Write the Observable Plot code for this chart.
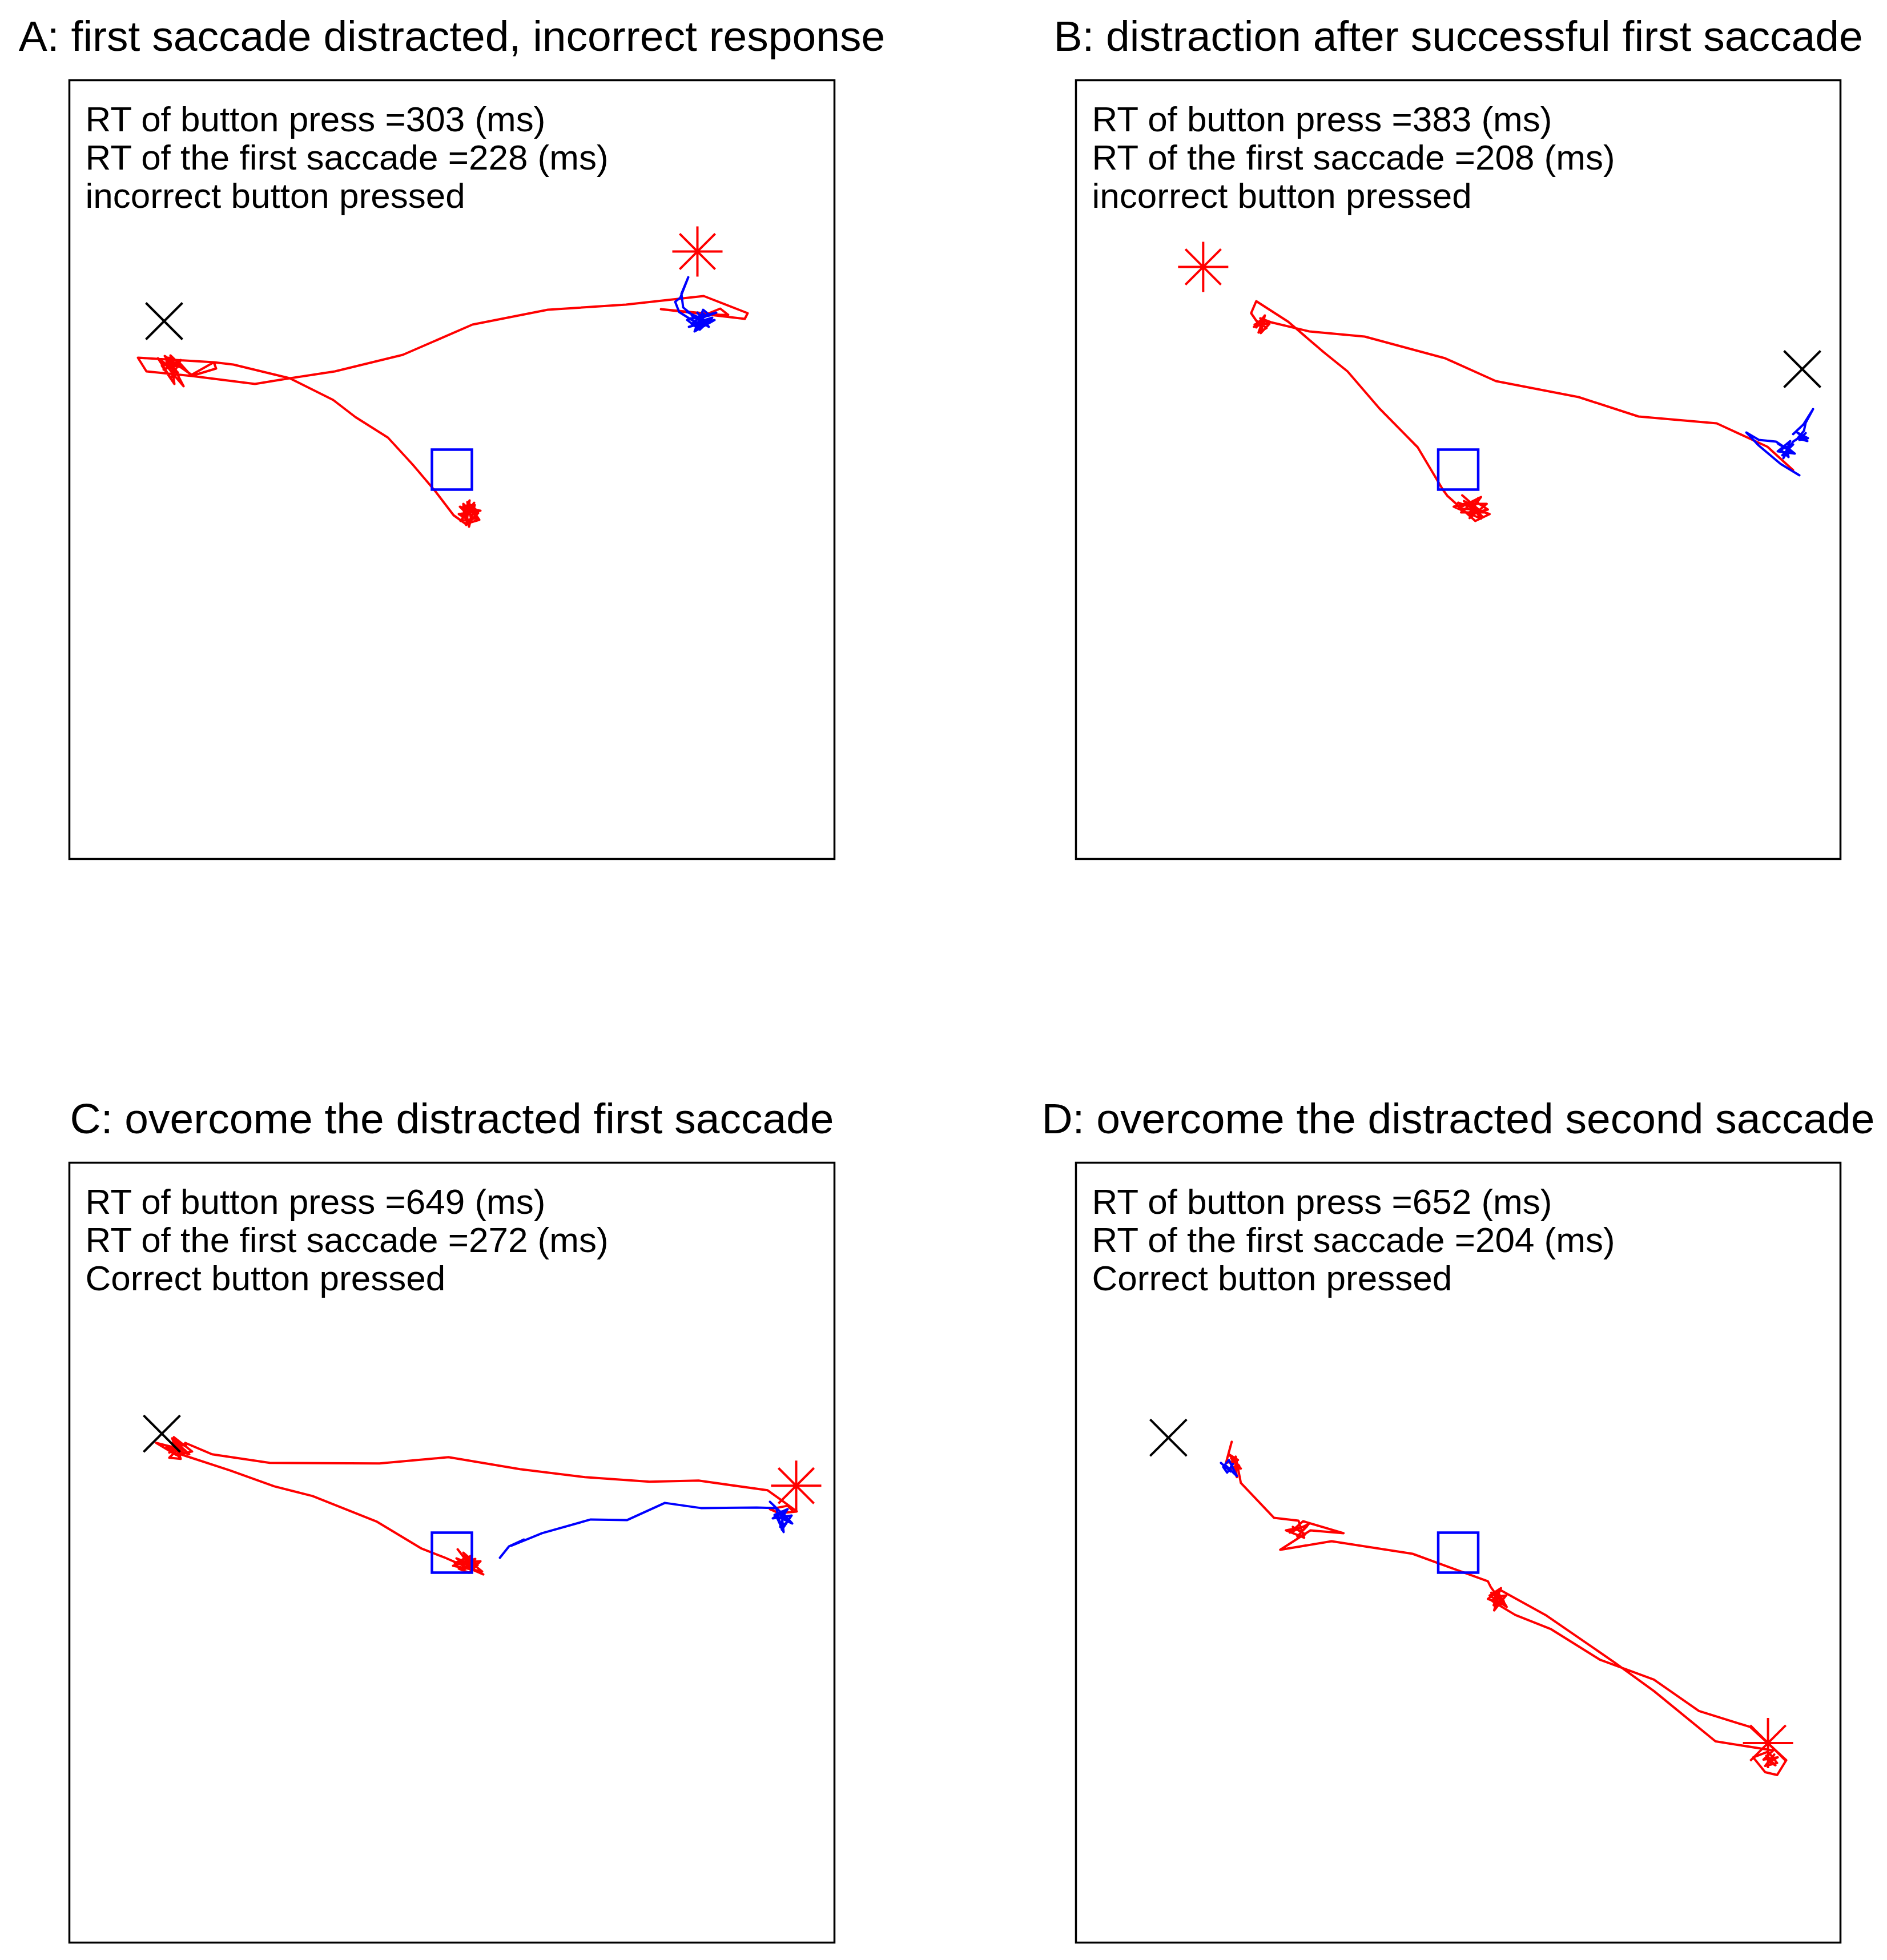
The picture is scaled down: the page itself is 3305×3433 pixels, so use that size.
<!DOCTYPE html>
<html><head><meta charset="utf-8">
<script src="https://cdn.jsdelivr.net/npm/d3@7"></script>
<script src="https://cdn.jsdelivr.net/npm/@observablehq/plot@0.6"></script>
<style>
html,body{margin:0;padding:0;background:#fff;}
#wrap{position:relative;width:3305px;height:3433px;background:#fff;overflow:hidden;}
#wrap svg{position:absolute;}
</style></head><body><div id="wrap"></div>
<script>
// ---- data (gaze positions in screen px relative to fixation; y downward) ----
const titles = [
  "A: first saccade distracted, incorrect response",
  "B: distraction after successful first saccade",
  "C: overcome the distracted first saccade",
  "D: overcome the distracted second saccade"
];
const rtPress = [303, 383, 649, 652];
const rtSaccade = [228, 208, 272, 204];
const outcome = ["incorrect button pressed", "incorrect button pressed", "Correct button pressed", "Correct button pressed"];

const aRed = [[36,69],[18,86],[39,58],[28,79],[14,65],[46,76],[25,97],[31,54],[21,74],
  [20,60],[45,85],[15,90],[40,62],[30,100],[22,68],[50,72],[12,78],[35,92],[27,57],[42,70],[18,82],[33,66],[48,88],[24,95],
  [3,80],[-29,38],[-68,-8],[-112,-56],[-169,-92],[-208,-122],[-284,-160],[-383,-184],[-417,-188],[-550,-196],[-535,-172],[-456,-164],[-413,-177],[-417,-188],[-456,-166],
  [-503,-199],[-485,-174],[-510,-188],[-478,-180],[-496,-196],[-470,-146],[-488,-167],[-499,-181],[-481,-185],
  [-505,-175],[-475,-192],[-492,-160],[-515,-195],[-480,-170],[-500,-190],[-470,-178],[-493,-200],[-486,-150],[-508,-182],[-476,-186],
  [-456,-164],[-345,-150],[-284,-160],[-205,-172],[-86,-201],[36,-254],[168,-280],[305,-289],[441,-304],[518,-274],[513,-264],[366,-281],[470,-271],[484,-271],[470,-282],[448,-273],[430,-275]];
const aBlue = [[412,-276],[448,-259],[427,-248],[441,-273],[420,-255],[456,-266],[434,-245],[412,-262],[463,-275],[438,-266],
  [420,-270],[450,-250],[430,-275],[445,-258],[415,-250],[460,-262],[425,-242],[440,-280],[452,-270],[418,-265],[436,-252],
  [398,-276],[391,-294],[400,-301],[414,-337],[402,-308],[405,-284],[427,-266]];

const bRed = [[7,45],[37,71],[0,68],[40,48],[18,78],[52,70],[29,55],[-8,65],[40,86],[22,61],
  [10,55],[45,75],[5,75],[35,50],[20,85],[50,60],[15,60],[42,82],[28,68],[0,58],[55,78],[30,90],
  [-19,46],[-27,35],[-71,-39],[-138,-107],[-194,-172],[-235,-205],[-298,-259],[-354,-295],[-363,-274],[-350,-255],
  [-354,-249],[-339,-270],[-346,-239],[-331,-255],[-357,-254],[-339,-262],[-344,-250],
  [-355,-262],[-336,-248],[-350,-240],[-340,-268],[-358,-250],[-332,-258],[-347,-265],
  [-328,-258],[-261,-242],[-164,-233],[-23,-195],[66,-155],[211,-127],[316,-93],[453,-81],[542,-40],[587,1]];
const bBlue = [[598,10],[565,-10],[527,-42],[505,-65],[527,-52],[557,-49],[572,-39],[561,-45],[583,-32],[568,-25],[587,-44],[565,-35],[579,-22],
  [575,-40],[590,-28],[560,-32],[582,-50],[570,-20],
  [587,-49],[602,-59],[594,-65],[613,-55],[598,-52],[609,-64],[602,-57],
  [598,-62],[612,-50],[595,-55],[606,-68],
  [609,-82],[622,-106],[605,-79],[587,-62]];

const cRed = [[10,-6],[33,24],[18,31],[41,11],[2,23],[53,33],[22,8],[14,19],[37,21],
  [8,10],[40,30],[20,0],[45,22],[12,28],[30,35],[50,15],[5,18],[35,5],[25,25],[55,38],
  [-14,8],[-53,-7],[-131,-54],[-244,-99],[-311,-116],[-389,-144],[-475,-172],
  [-491,-192],[-467,-179],[-518,-192],[-483,-171],[-455,-177],[-487,-202],[-475,-164],[-495,-166],[-479,-182],
  [-470,-190],[-495,-175],[-485,-195],[-460,-172],[-500,-185],[-478,-168],[-490,-200],[-465,-185],
  [-467,-192],[-420,-172],[-319,-157],[-127,-156],[-6,-167],[119,-146],[233,-132],[346,-124],[432,-126],[553,-109],[581,-89],[604,-72],[573,-69],[557,-76],[588,-82],[596,-74]];
const cBlue = [[557,-89],[588,-59],[569,-62],[581,-36],[577,-72],[596,-51],[565,-66],[588,-76],[581,-66],
  [570,-70],[590,-55],[575,-45],[585,-75],[562,-60],[595,-65],[578,-40],[568,-78],
  [534,-79],[436,-78],[373,-87],[307,-57],[243,-58],[158,-34],[104,-12],[126,-23],[100,-11],[84,9]];

const dRed = [[-397,-194],[-407,-157],[-386,-162],[-402,-172],[-381,-147],[-395,-150],[-388,-132],[-391,-157],
  [-398,-165],[-384,-152],[-400,-145],[-390,-168],
  [-381,-122],[-323,-61],
  [-280,-56],[-270,-26],[-302,-39],[-265,-46],[-275,-36],
  [-290,-45],[-268,-32],[-282,-28],[-262,-50],[-295,-35],[-272,-55],
  [-201,-34],[-259,-39],[-312,-5],[-222,-20],[-80,2],[52,50],
  [57,60],[79,91],[52,81],[73,65],[63,101],[84,75],[66,77],
  [58,70],[80,85],[62,92],[75,62],[55,75],[85,95],[70,70],[60,85],
  [100,109],[163,134],[248,187],[343,222],[422,277],[512,305],[575,363],[559,389],[538,384],[517,358],
  [543,348],[559,368],[538,373],[554,353],[548,361],
  [540,355],[556,372],[545,366],[560,358],[535,362],[552,346],
  [451,330],[343,242],[274,192],[153,109],[73,65]];
const dBlue = [[-416,-157],[-399,-142],[-407,-152],[-388,-134],[-402,-162],[-412,-150],[-405,-140],[-395,-155]];

const fixationPos = [[0,0],[0,0],[0,0],[0,0]];
const crossPos = [[-504,-260],[603,-176],[-508,-208],[-508,-201]];
const starPos = [[430,-382],[-447,-355],[603,-117],[543,333]];

const redTraces = [aRed, bRed, cRed, dRed];
const blueTraces = [aBlue, bBlue, cBlue, dBlue];

// ---- MATLAB-like marker symbols ----
const symTimes = {draw(c, s) {const r = Math.sqrt(s / Math.PI); c.moveTo(-r,-r); c.lineTo(r,r); c.moveTo(-r,r); c.lineTo(r,-r);}};
const symStar = {draw(c, s) {const r = Math.sqrt(s / Math.PI), d = r * Math.SQRT1_2;
  c.moveTo(-r,0); c.lineTo(r,0); c.moveTo(0,-r); c.lineTo(0,r);
  c.moveTo(-d,-d); c.lineTo(d,d); c.moveTo(-d,d); c.lineTo(d,-d);}};
const symSquare = {draw(c, s) {const r = Math.sqrt(s / Math.PI); c.rect(-r,-r,2*r,2*r);}};

const layout = [
  {left: 0,    top: 0,    width: 1652, height: 1716, mL: 121, mR: 191, mT: 140, mB: 212},
  {left: 1652, top: 0,    width: 1653, height: 1716, mL: 232, mR: 82,  mT: 140, mB: 212},
  {left: 0,    top: 1716, width: 1652, height: 1717, mL: 121, mR: 191, mT: 320, mB: 31},
  {left: 1652, top: 1716, width: 1653, height: 1717, mL: 232, mR: 82,  mT: 320, mB: 31}
];

const font = "'Liberation Sans', Arial, Helvetica, sans-serif";
const wrap = document.getElementById("wrap");
const X = d => d[0], Y = d => d[1];

layout.forEach((L, i) => {
  const info = [`RT of button press =${rtPress[i]} (ms)\nRT of the first saccade =${rtSaccade[i]} (ms)\n${outcome[i]}`];
  const svg = Plot.plot({
    width: L.width, height: L.height,
    marginLeft: L.mL, marginRight: L.mR, marginTop: L.mT, marginBottom: L.mB,
    x: {domain: [-670, 670], axis: null},
    y: {domain: [-682, 682], reverse: true, axis: null},
    style: {background: "white", fontFamily: font, overflow: "visible"},
    marks: [
      Plot.line(redTraces[i], {x: X, y: Y, stroke: "#ff0000", strokeWidth: 4}),
      Plot.line(blueTraces[i], {x: X, y: Y, stroke: "#0000ff", strokeWidth: 4}),
      Plot.dot([fixationPos[i]], {x: X, y: Y, symbol: symSquare, r: 35, fill: "none", stroke: "#0000ff", strokeWidth: 4.5}),
      Plot.dot([crossPos[i]], {x: X, y: Y, symbol: symTimes, r: 32, fill: "none", stroke: "black", strokeWidth: 4}),
      Plot.dot([starPos[i]], {x: X, y: Y, symbol: symStar, r: 44, fill: "none", stroke: "#ff0000", strokeWidth: 4}),
      Plot.frame({stroke: "black", strokeWidth: 3.5}),
      Plot.text([titles[i]], {frameAnchor: "top", lineAnchor: "bottom", dy: -52, fontSize: 75, fontFamily: font, fill: "black"}),
      Plot.text(info, {frameAnchor: "top-left", lineAnchor: "top", dx: 28, dy: 42, fontSize: 62, lineHeight: 1.08, fontFamily: font, fill: "black"})
    ]
  });
  svg.style.left = L.left + "px";
  svg.style.top = L.top + "px";
  wrap.appendChild(svg);
});
</script>
</body></html>
